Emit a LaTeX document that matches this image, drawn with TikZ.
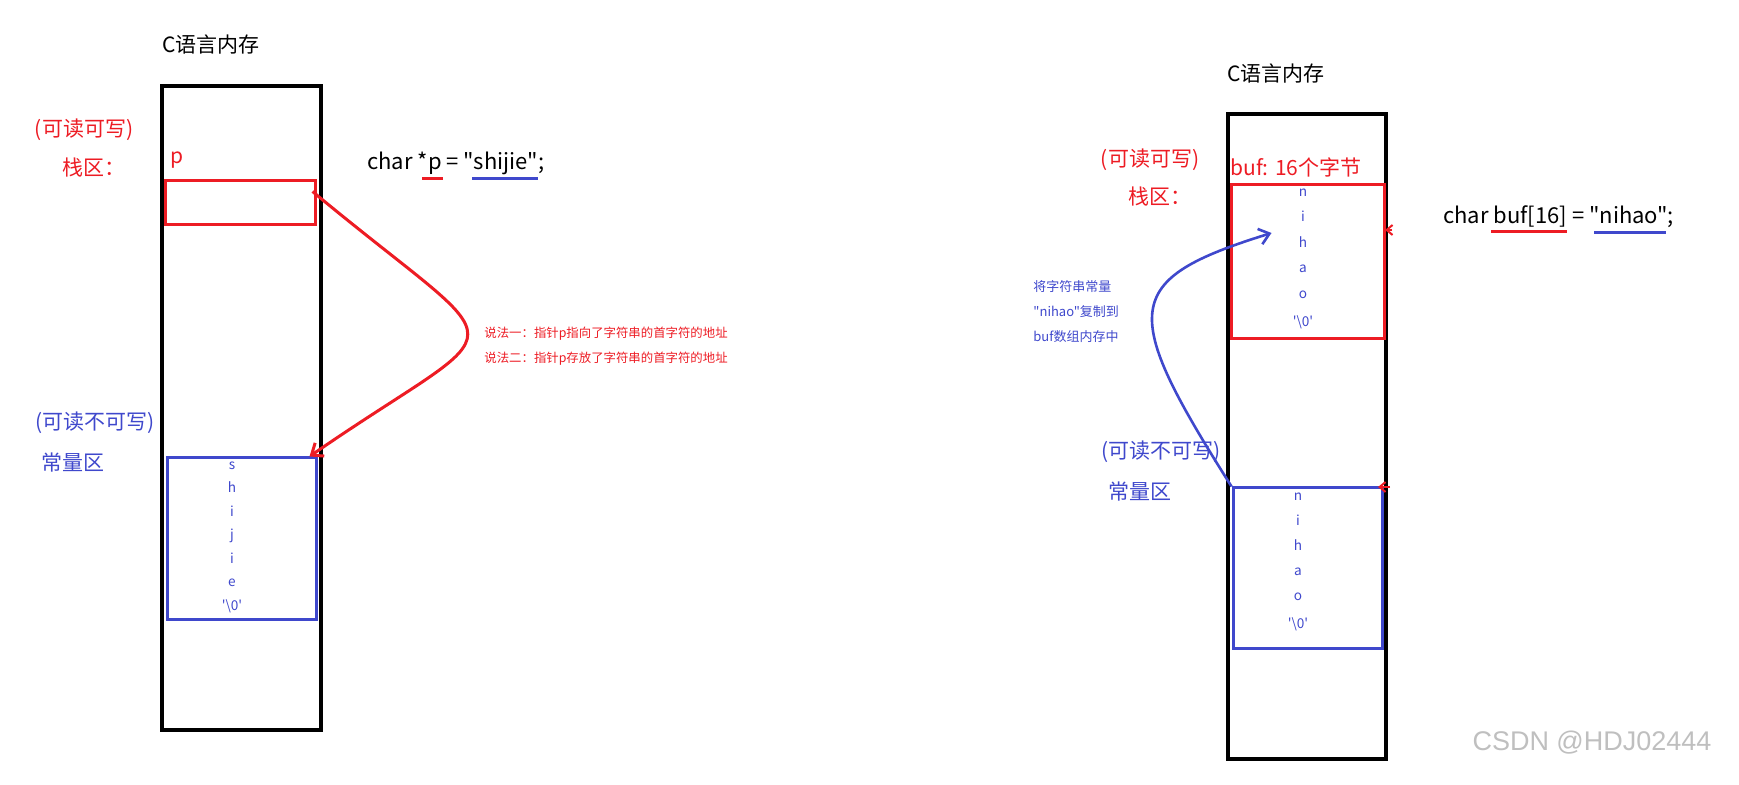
\documentclass[tikz,border=0pt]{standalone}
\usepackage{fontspec}
\newfontfamily\cjk{Noto Sans CJK SC}
\newfontfamily\wmfont{Liberation Sans}
\usepackage{xcolor}
\usepackage{tikz}
\usetikzlibrary{arrows.meta,calc,fit}

\definecolor{paintred}{RGB}{237,28,36}
\definecolor{paintblue}{RGB}{63,72,204}

\begin{document}
\begin{tikzpicture}[x=0.5pt, y=-0.5pt,
    membox/.style={draw=black, line width=1.7pt, inner sep=0pt},
    stackbox/.style={draw=paintred, line width=1.5pt, inner sep=0pt},
    constbox/.style={draw=paintblue, line width=1.5pt, inner sep=0pt},
    bigtext/.style={font=\cjk\fontsize{10.5}{12}\selectfont, inner sep=0pt},
    codetext/.style={font=\cjk\fontsize{11}{13}\selectfont, inner sep=0pt, anchor=west},
    smalltext/.style={font=\cjk\fontsize{6.2}{7}\selectfont, inner sep=0pt, anchor=west},
    celltext/.style={font=\cjk\fontsize{6.8}{11.75}\selectfont, inner sep=0pt, align=center, text=paintblue},
    uline/.style={line width=1.5pt},
    pen/.style={line width=1.5pt, -{Straight Barb[length=5pt, width=8pt]}}]
    \useasboundingbox (0,0) rectangle (1739,785);

    % ---------- left: char *p ----------
    \node[bigtext] (titleL) at (211,45) {C语言内存};
    \node[membox, fit={(162,86) (321,730)}] (memL) {};

    % stack area
    \node[bigtext, text=paintred] (rwL) at (84,130) {(可读可写)};
    \node[bigtext, text=paintred, anchor=west] (stackL) at (62,168) {栈区：};
    \node[bigtext, text=paintred, anchor=base west] (pname) at (170,164) {p};
    \node[stackbox, fit={(165,181) (315,225)}] (pL) {};

    % constant area
    \node[bigtext, text=paintblue] (roL) at (95,423) {(可读不可写)};
    \node[bigtext, text=paintblue] (constL) at (73,463) {常量区};
    \node[constbox, fit={(167,458) (316,619)}] (strL) {};
    \node[celltext] (charsL) at (232,537) {s\\h\\i\\j\\i\\e\\'\textbackslash 0'};

    % declaration
    \node[codetext] (declL) at (367,163) {char *p = "shijie";};
    \draw[uline, paintred] (422,179) -- (443,179);
    \draw[uline, paintblue] (472,179) -- (538,179);

    % pointer arrow
    \draw[pen, paintred] ($(pL.north east)+(-4,12)$)
      .. controls (520,364) and (519,312) .. ($(strL.north east)+(-8,0)$);
    \node[smalltext, text=paintred] (say1) at (484,334) {说法一：指针p指向了字符串的首字符的地址};
    \node[smalltext, text=paintred] (say2) at (484,359) {说法二：指针p存放了字符串的首字符的地址};

    % ---------- right: char buf[16] ----------
    \node[bigtext] (titleR) at (1276,74) {C语言内存};
    \node[membox, fit={(1228,114) (1386,759)}] (memR) {};

    % stack area
    \node[bigtext, text=paintred] (rwR) at (1150,160) {(可读可写)};
    \node[bigtext, text=paintred, anchor=west] (stackR) at (1128,197) {栈区：};
    \node[bigtext, text=paintred, anchor=west] (bufname) at (1230,167) {buf: 16个字节};
    \node[stackbox, fit={(1231,185) (1384,339)}] (bufR) {};
    \node[celltext, font=\cjk\fontsize{6.8}{12.7}\selectfont] (charsbuf) at (1303,259) {n\\i\\h\\a\\o\\[1.5pt]'\textbackslash 0'};

    % constant area
    \node[bigtext, text=paintblue] (roR) at (1161,452) {(可读不可写)};
    \node[bigtext, text=paintblue] (constR) at (1140,492) {常量区};
    \node[constbox, fit={(1233,488) (1382,648)}] (strR) {};
    \node[celltext, font=\cjk\fontsize{6.8}{12.5}\selectfont] (charsR) at (1298,562) {n\\i\\h\\a\\o\\[1.5pt]'\textbackslash 0'};

    % declaration
    \node[codetext] (declR) at (1443,217) {char buf[16] = "nihao";};
    \draw[uline, paintred] (1491,232) -- (1567,232);
    \draw[uline, paintblue] (1594,233) -- (1666,233);

    % copy arrow
    \draw[pen, paintblue, line width=1.3pt] (strR.north west)
      .. controls (1120,310) and (1120,280) .. ($(bufR.west)+(42,-29)$);
    \node[smalltext, font=\cjk\fontsize{6.5}{7}\selectfont, text=paintblue] (copy1) at (1033,287) {将字符串常量};
    \node[smalltext, font=\cjk\fontsize{6.5}{7}\selectfont, text=paintblue] (copy2) at (1033,312) {"nihao"复制到};
    \node[smalltext, font=\cjk\fontsize{6.5}{7}\selectfont, text=paintblue] (copy3) at (1033,337) {buf数组内存中};

    % stray red tips at the right edge
    \coordinate (tipA) at (1392,230);
    \coordinate (tipB) at (1390,487);
    \draw[paintred, line width=1pt, -{Straight Barb[length=3pt, width=5pt]}] (tipA) -- ++(-7,0);
    \draw[paintred, line width=1pt, -{Straight Barb[length=3pt, width=5pt]}] (tipB) -- ++(-12,0);

    % watermark
    \node[font=\wmfont\fontsize{13.5}{15}\selectfont, text=black!25, inner sep=0pt] (mark) at (1592,743) {CSDN @HDJ02444};
\end{tikzpicture}
\end{document}
